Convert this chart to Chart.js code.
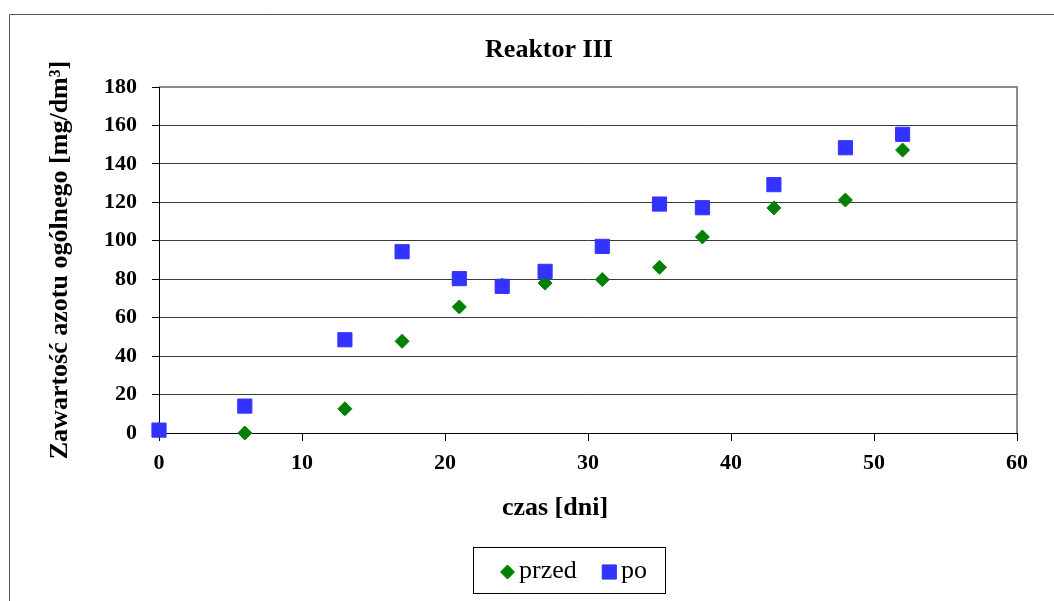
<!DOCTYPE html>
<html lang="pl">
<head>
<meta charset="utf-8">
<title>Reaktor III</title>
<script src="https://cdn.jsdelivr.net/npm/chart.js@4.4.1/dist/chart.umd.min.js"></script>
<style>
  html, body { margin: 0; padding: 0; background: #ffffff; }
  canvas { display: block; }
</style>
</head>
<body>
<canvas id="chart" width="1054" height="601"></canvas>
<script>
// Measurement days
const days = [0, 6, 13, 17, 21, 24, 27, 31, 35, 38, 43, 48, 52];
// Total nitrogen before treatment [mg/dm3]
const przed = [2, 0, 12.6, 47.7, 65.6, 77, 78, 79.8, 86.2, 102, 117.1, 121.2, 147.2];
// Total nitrogen after treatment [mg/dm3]
const po = [1.5, 14, 48.5, 94.3, 80.3, 76.3, 84.1, 97.1, 119.1, 117.2, 129.2, 148.4, 155.4];

const seriesNames = ['przed', 'po'];
const chartTitle = 'Reaktor III';
const xTitle = 'czas [dni]';
const yTitle = 'Zawartość azotu ogólnego [mg/dm³]';
const xTickValues = [0, 10, 20, 30, 40, 50, 60];
const yTickValues = [0, 20, 40, 60, 80, 100, 120, 140, 160, 180];

const SERIF = "'Liberation Serif', 'Times New Roman', serif";
const GREEN = '#008000';
const BLUE = '#3333ff';

const toPoints = (xs, ys) => xs.map((x, i) => ({ x, y: ys[i] }));

// Frame, titles and boxed legend drawn around the plot
const decor = {
  id: 'decor',
  beforeDraw(chart) {
    const { ctx, chartArea: a } = chart;
    ctx.save();
    ctx.strokeStyle = '#555555';
    ctx.lineWidth = 1;
    ctx.beginPath();
    ctx.moveTo(9.5, 601);
    ctx.lineTo(9.5, 14.5);
    ctx.lineTo(1054, 14.5);
    ctx.stroke();

    ctx.strokeStyle = '#8c8c8c';
    ctx.lineWidth = 2;
    ctx.beginPath();
    ctx.moveTo(a.left, a.top);
    ctx.lineTo(a.right, a.top);
    ctx.lineTo(a.right, a.bottom);
    ctx.stroke();
    ctx.restore();
  },
  afterDraw(chart) {
    const { ctx, chartArea: a } = chart;
    ctx.save();
    ctx.fillStyle = '#000000';
    ctx.font = 'bold 26px ' + SERIF;
    ctx.textAlign = 'center';
    ctx.textBaseline = 'alphabetic';
    ctx.fillText(chartTitle, 549, 57);
    ctx.fillText(xTitle, 555, 515);

    ctx.save();
    ctx.translate(67, (a.top + a.bottom) / 2);
    ctx.rotate(-Math.PI / 2);
    ctx.fillText(yTitle, 0, 0);
    ctx.restore();

    // legend box
    ctx.strokeStyle = '#000000';
    ctx.lineWidth = 1;
    ctx.strokeRect(473.5, 547.5, 192, 46);

    const order = seriesNames.map(n => chart.data.datasets.find(d => d.label === n));
    ctx.font = '26px ' + SERIF;
    ctx.textAlign = 'left';
    let x = 500;
    const cy = 572;
    order.forEach(ds => {
      const r = ds.pointRadius;
      const half = ds.pointStyle === 'rect' ? r * Math.SQRT1_2 + 0.5 : r + 0.5;
      const cx = x + half;
      ctx.fillStyle = ds.backgroundColor;
      ctx.strokeStyle = ds.borderColor;
      ctx.lineWidth = ds.borderWidth;
      Chart.helpers.drawPoint(ctx, { pointStyle: ds.pointStyle, radius: r, rotation: 0, borderWidth: ds.borderWidth }, cx, cy);
      ctx.fillStyle = '#000000';
      const tx = cx + half + 4;
      ctx.fillText(ds.label, tx, 577.5);
      x = tx + ctx.measureText(ds.label).width + 25;
    });
    ctx.restore();
  }
};

new Chart(document.getElementById('chart'), {
  type: 'scatter',
  data: {
    datasets: [
      {
        label: seriesNames[1],
        data: toPoints(days, po),
        pointStyle: 'rect',
        pointRadius: 10,
        pointHoverRadius: 10,
        backgroundColor: BLUE,
        borderColor: BLUE,
        borderWidth: 1,
        clip: false
      },
      {
        label: seriesNames[0],
        data: toPoints(days, przed),
        pointStyle: 'rectRot',
        pointRadius: 7,
        pointHoverRadius: 7,
        backgroundColor: GREEN,
        borderColor: GREEN,
        borderWidth: 1,
        clip: false
      }
    ]
  },
  options: {
    responsive: false,
    animation: false,
    devicePixelRatio: 1,
    layout: { padding: { left: 0, right: 37, top: 87, bottom: 0 } },
    plugins: {
      legend: { display: false },
      title: { display: false },
      tooltip: { enabled: false }
    },
    scales: {
      x: {
        type: 'linear',
        min: xTickValues[0],
        max: xTickValues[xTickValues.length - 1],
        afterBuildTicks: s => { s.ticks = xTickValues.map(v => ({ value: v })); },
        afterFit: s => { s.height = 168; },
        grid: { drawOnChartArea: false, drawTicks: true, tickLength: 8, tickColor: '#000000' },
        border: { color: '#000000', width: 1 },
        ticks: {
          padding: 9,
          color: '#000000',
          font: { family: SERIF, size: 22, weight: 'bold' },
          maxRotation: 0
        }
      },
      y: {
        type: 'linear',
        min: yTickValues[0],
        max: yTickValues[yTickValues.length - 1],
        afterBuildTicks: s => { s.ticks = yTickValues.map(v => ({ value: v })); },
        afterFit: s => { s.width = 159; },
        grid: {
          color: c => (c.tick && c.tick.value === 180 ? '#8c8c8c' : '#3a3a3a'),
          lineWidth: 1,
          drawTicks: true,
          tickLength: 7,
          tickColor: '#000000'
        },
        border: { color: '#000000', width: 1 },
        ticks: {
          padding: 15,
          color: '#000000',
          font: { family: SERIF, size: 22, weight: 'bold' }
        }
      }
    }
  },
  plugins: [decor]
});
</script>
</body>
</html>
